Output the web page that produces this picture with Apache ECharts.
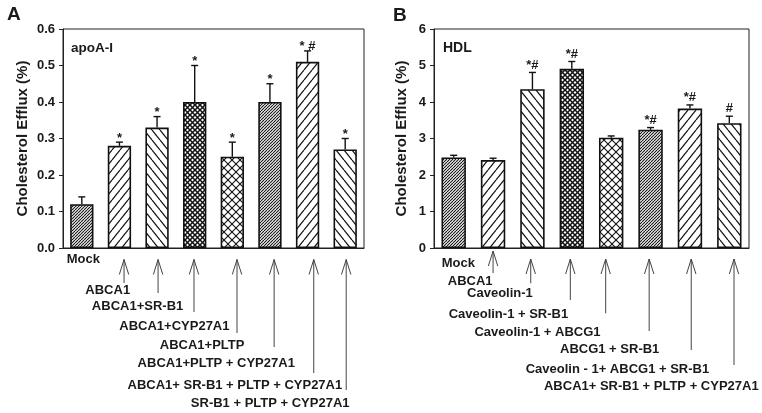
<!DOCTYPE html>
<html><head><meta charset="utf-8">
<script src="https://cdn.jsdelivr.net/npm/echarts@6/dist/echarts.min.js"></script>
<style>html,body{margin:0;padding:0;background:#fff}#c{width:762px;height:413px}</style>
</head><body><div id="c"></div>
<script>
// ---------- data ----------
const catsA = ['Mock','ABCA1','ABCA1+SR-B1','ABCA1+CYP27A1','ABCA1+PLTP','ABCA1+PLTP + CYP27A1','ABCA1+ SR-B1 + PLTP + CYP27A1','SR-B1 + PLTP + CYP27A1'];
const valsA = [0.12, 0.28, 0.33, 0.40, 0.25, 0.40, 0.51, 0.27];
const errA  = [0.02, 0.01, 0.03, 0.10, 0.04, 0.05, 0.03, 0.03];
const sigA  = ['', '*', '*', '*', '*', '*', '* #', '*'];

const catsB = ['Mock','ABCA1','Caveolin-1','Caveolin-1 + SR-B1','Caveolin-1 + ABCG1','ABCG1 + SR-B1','Caveolin - 1+ ABCG1 + SR-B1','ABCA1+ SR-B1 + PLTP + CYP27A1'];
const valsB = [2.48, 2.41, 4.35, 4.91, 3.02, 3.24, 3.82, 3.42];
const errB  = [0.06, 0.05, 0.46, 0.20, 0.05, 0.06, 0.10, 0.19];
const sigB  = ['', '', '*#', '*#', '', '*#', '*#', '#'];

const yTitle = 'Cholesterol Efflux (%)';
const panelNames = ['A', 'B'];
const panelTags = ['apoA-I', 'HDL'];

// ---------- styling / layout ----------
const patternSeq = ['dense','fwd','back','xdense','xsparse','dense','fwd','back'];
const FONT = '"Liberation Sans", Arial, sans-serif';
const INK = '#1a1a1a';

// annotation layout (pixels, relative to bar centres)
const layA = {
  sigDy: 2.5,
  mockDx: 1.5, mockY: 259.5,
  tipY: [259.5, 259.5, 259.5, 259.5, 259.5, 259.5, 259.5],
  arrowDx: [4.6, 1, -0.7, 4.7, 4.2, 6.2, 1],
  bottomY: [283, 293, 312, 333, 347, 373, 390],
  labelDx: [-11.7, -19.5, -20.3, -30.2, -53.7, -72.7, -75],
  labelY: [290.3, 306.7, 326.3, 345, 363.7, 385.7, 403.3]
};
const layB = {
  sigDy: -1,
  mockDx: 4.7, mockY: 263.3,
  tipY: [251, 259, 259, 259, 259, 259, 259],
  arrowDx: [0, -1.7, -1.5, -5.5, -1.4, 1.3, 4.7],
  bottomY: [273, 283.3, 300, 313.3, 331, 350, 365],
  labelDx: [-22.9, -32.5, -63.4, -73.7, -40.9, -72.5, -78],
  labelY: [281.3, 293, 314.3, 332, 349.3, 369.3, 386.7]
};

function makePattern(kind) {
  const specs = {
    dense:   {w: 3, h: 3, lw: 1.1, dirs: [1]},
    fwd:     {w: 8, h: 10, lw: 1.2, dirs: [1]},
    back:    {w: 8, h: 10, lw: 1.2, dirs: [-1]},
    xdense:  {w: 5, h: 5, lw: 1.5, dirs: [1, -1]},
    xsparse: {w: 8, h: 8, lw: 1.1, dirs: [1, -1]}
  };
  const s = specs[kind];
  const c = document.createElement('canvas');
  c.width = s.w; c.height = s.h;
  const g = c.getContext('2d');
  g.fillStyle = '#fff'; g.fillRect(0, 0, s.w, s.h);
  g.strokeStyle = '#111'; g.lineWidth = s.lw;
  for (const d of s.dirs) {
    for (let k = -1; k <= 1; k++) {
      g.beginPath();
      if (d === 1) { g.moveTo(k * s.w, s.h); g.lineTo(k * s.w + s.w, 0); }
      else { g.moveTo(k * s.w, 0); g.lineTo(k * s.w + s.w, s.h); }
      g.stroke();
    }
  }
  return c;
}
const patterns = {};
['dense','fwd','back','xdense','xsparse'].forEach(k => patterns[k] = makePattern(k));

function barData(vals) {
  return vals.map((v, i) => ({
    value: v,
    itemStyle: {
      color: {image: patterns[patternSeq[i]], repeat: 'repeat'},
      borderColor: '#111', borderWidth: 1.6
    }
  }));
}

function errSeries(idx, vals, errs, sigs, sigDy) {
  return {
    type: 'custom', xAxisIndex: idx, yAxisIndex: idx, z: 5,
    data: vals.map((v, i) => [i, v, v + errs[i]]),
    renderItem(params, api) {
      const i = params.dataIndex;
      const x = api.value(0);
      const lo = api.coord([x, api.value(1)]);
      const hi = api.coord([x, api.value(2)]);
      const cap = 3.5;
      return {
        type: 'group',
        children: [
          {type: 'line', shape: {x1: lo[0], y1: lo[1], x2: hi[0], y2: hi[1]}, style: {stroke: '#111', lineWidth: 1.4}},
          {type: 'line', shape: {x1: hi[0] - cap, y1: hi[1], x2: hi[0] + cap, y2: hi[1]}, style: {stroke: '#111', lineWidth: 1.4}},
          {type: 'text', x: hi[0], y: hi[1] + sigDy,
           style: {text: sigs[i], font: 'bold 13px ' + FONT, fill: INK,
                   align: 'center', verticalAlign: 'bottom', textAlign: 'center', textVerticalAlign: 'bottom'}}
        ]
      };
    }
  };
}

function yAxisDef(idx, max, interval, dec, gap) {
  return {
    type: 'value', gridIndex: idx, min: 0, max: max, interval: interval,
    name: yTitle, nameLocation: 'middle', nameRotate: 90, nameGap: gap,
    nameTextStyle: {fontFamily: FONT, fontWeight: 'bold', fontSize: 15, color: INK},
    axisLine: {show: true, lineStyle: {color: '#222', width: 1}},
    axisTick: {show: true, length: 4, lineStyle: {color: '#222'}},
    splitLine: {show: false},
    axisLabel: {fontFamily: FONT, fontWeight: 'bold', fontSize: 13, color: INK, margin: 8,
                formatter: v => v.toFixed(dec)}
  };
}
function xAxisDef(idx, cats) {
  return {
    type: 'category', gridIndex: idx, data: cats,
    axisLine: {show: true, lineStyle: {color: '#222', width: 1}},
    axisTick: {show: false}, axisLabel: {show: false}
  };
}

const chart = echarts.init(document.getElementById('c'), null, {renderer: 'canvas'});
chart.setOption({
  animation: false,
  backgroundColor: '#fff',
  grid: [
    {left: 63, top: 29, width: 301, height: 219, show: true, borderColor: '#222', borderWidth: 1, backgroundColor: 'transparent'},
    {left: 434, top: 29, width: 315, height: 219, show: true, borderColor: '#222', borderWidth: 1, backgroundColor: 'transparent'}
  ],
  xAxis: [xAxisDef(0, catsA), xAxisDef(1, catsB)],
  yAxis: [yAxisDef(0, 0.6, 0.1, 1, 33), yAxisDef(1, 6, 1, 0, 25)],
  series: [
    {type: 'bar', xAxisIndex: 0, yAxisIndex: 0, barWidth: '62%', data: barData(valsA)},
    {type: 'bar', xAxisIndex: 1, yAxisIndex: 1, barWidth: '62%', data: barData(valsB)},
    errSeries(0, valsA, errA, sigA, layA.sigDy),
    errSeries(1, valsB, errB, sigB, layB.sigDy)
  ]
});

// ---------- annotations (labels + arrows) ----------
function txt(x, y, text, size, align) {
  return {type: 'text', x: x, y: y, z: 10,
    style: {text: text, font: 'bold ' + size + 'px ' + FONT, fill: INK,
            align: align || 'center', verticalAlign: 'middle',
            textAlign: align || 'center', textVerticalAlign: 'middle'}};
}
const elems = [];
function panelAnnot(idx, cats, lay) {
  const cx = i => chart.convertToPixel({gridIndex: idx}, [i, 0])[0];
  elems.push(txt(cx(0) + lay.mockDx, lay.mockY, cats[0], 13));
  for (let k = 0; k < cats.length - 1; k++) {
    const i = k + 1;
    const c = cx(i);
    const ax = c + lay.arrowDx[k];
    const tip = lay.tipY[k];
    elems.push({type: 'polyline', z: 10, shape: {points: [[ax, tip], [ax, lay.bottomY[k]]]},
                style: {stroke: '#444', lineWidth: 1, fill: null}});
    elems.push({type: 'polyline', z: 10, shape: {points: [[ax - 4.7, tip + 15], [ax, tip], [ax + 4.7, tip + 15]]},
                style: {stroke: '#444', lineWidth: 1, fill: null}});
    elems.push(txt(c + lay.labelDx[k], lay.labelY[k], cats[i], 13));
  }
}
panelAnnot(0, catsA, layA);
panelAnnot(1, catsB, layB);
elems.push(txt(7, 15, panelNames[0], 19, 'left'));
elems.push(txt(393, 16, panelNames[1], 19, 'left'));
elems.push(txt(71, 48, panelTags[0], 13.5, 'left'));
elems.push(txt(443, 48, panelTags[1], 14, 'left'));
chart.setOption({graphic: {elements: elems}});
</script>
</body></html>
